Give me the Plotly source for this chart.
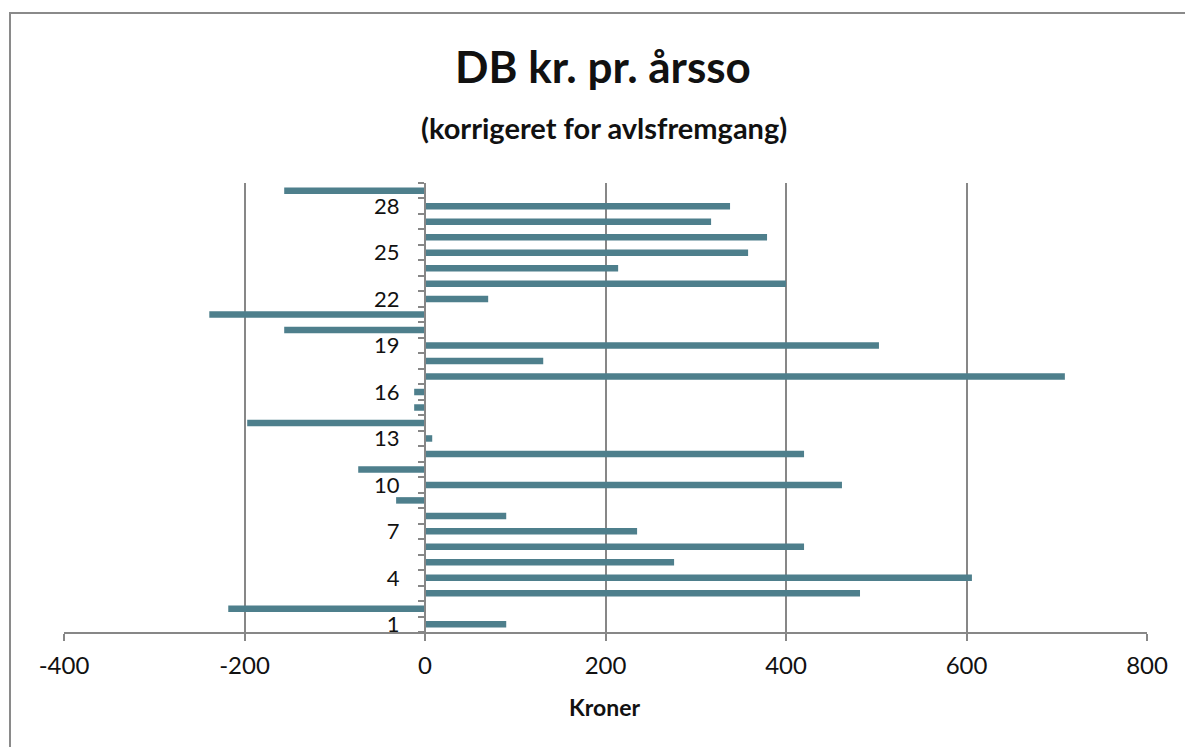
import plotly.graph_objects as go

categories = list(range(1, 30))
values = [90, -218, 482, 606, 276, 420, 235, 90, -32, 462, -74, 420, 8, -197, -12,
          -12, 709, 131, 503, -156, -239, 70, 400, 214, 358, 379, 317, 338, -156]
x_ticks = [-400, -200, 0, 200, 400, 600, 800]
y_tick_labels = [1, 4, 7, 10, 13, 16, 19, 22, 25, 28]

W, H = 1185, 747
L, R, T, B = 64, 1147, 183, 632
pw, ph = R - L, B - T

def px(xp):
    return (xp - L) / pw

def py(yp):
    return (B - yp) / ph

FONT = "Lato, 'Open Sans', sans-serif"
GRAY = "#878787"

fig = go.Figure(go.Bar(
    x=values, y=categories, orientation="h",
    marker=dict(color="#4E7F8C", line=dict(width=0)),
    width=0.42,
))

fig.update_layout(
    width=W, height=H,
    margin=dict(l=L, r=W - R, t=T, b=H - B, pad=0),
    paper_bgcolor="white", plot_bgcolor="white",
    showlegend=False,
    font=dict(family=FONT, color="#111111"),
    xaxis=dict(
        range=[-400, 800], tickvals=x_ticks, ticktext=[str(v) for v in x_ticks],
        showgrid=True, gridcolor=GRAY, gridwidth=1.5,
        zeroline=False, showline=True, linecolor=GRAY, linewidth=2,
        ticks="outside", ticklen=7, tickcolor=GRAY, tickwidth=1.5,
        tickfont=dict(size=24, family=FONT, color="#111111"),
        ticklabelstandoff=4,
        fixedrange=True,
    ),
    yaxis=dict(
        range=[0.5, 29.5], tickvals=y_tick_labels, ticktext=[str(v) for v in y_tick_labels],
        anchor="free", position=1/3, side="left",
        showgrid=False, zeroline=False, showline=True, linecolor=GRAY, linewidth=2,
        ticks="outside", ticklen=0, tickcolor=GRAY,
        minor=dict(ticks="outside", tick0=0.5, dtick=1, ticklen=6, tickcolor=GRAY, tickwidth=1.5, showgrid=False),
        tickfont=dict(size=22, family=FONT, color="#111111"),
        ticklabelstandoff=20,
        fixedrange=True,
    ),
)

fig.add_shape(type="rect", xref="paper", yref="paper",
              x0=px(10), x1=px(1195), y0=py(760), y1=py(13),
              line=dict(color="#8a8a8a", width=2), fillcolor="rgba(0,0,0,0)", layer="below")

fig.add_annotation(text="<b>DB kr. pr. årsso</b>", xref="paper", yref="paper",
                   x=px(603), y=py(66), showarrow=False, xanchor="center", yanchor="middle",
                   font=dict(size=44, family=FONT, color="#111111"))
fig.add_annotation(text="<b>(korrigeret for avlsfremgang)</b>", xref="paper", yref="paper",
                   x=px(604), y=py(128), showarrow=False, xanchor="center", yanchor="middle",
                   font=dict(size=29, family=FONT, color="#111111"))
fig.add_annotation(text="<b>Kroner</b>", xref="paper", yref="paper",
                   x=px(604), y=py(707), showarrow=False, xanchor="center", yanchor="middle",
                   font=dict(size=23, family=FONT, color="#111111"))

fig.write_html("out.html")
